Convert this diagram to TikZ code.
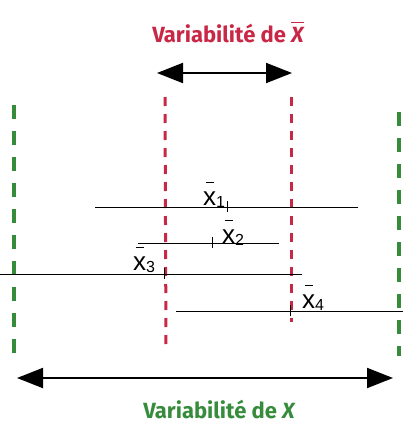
\documentclass[tikz,border=0pt]{standalone}
\usepackage{fontspec}
\setmainfont{Liberation Sans}
\newfontfamily\titlefont{Fira Sans}
\usetikzlibrary{arrows.meta}
\definecolor{vred}{RGB}{200,40,70}
\definecolor{vgreen}{RGB}{55,140,60}
\newcommand\obar[1]{\leavevmode\vbox{\hrule height 1.2pt\kern 4pt\hbox{#1}}}
\newcommand\xbarlab[1]{{\fontsize{26}{26}\selectfont\makebox[0pt][l]{\hspace{2.5pt}\raisebox{22pt}{\rule{8pt}{1.3pt}}}x}\raisebox{-2pt}{\fontsize{16}{16}\selectfont #1}}
\tikzset{
  titletext/.style={font=\titlefont\bfseries\fontsize{22}{22}\selectfont, inner sep=0pt},
  bigarrow/.style={line width=2pt, {Triangle[length=26pt,width=20pt]}-{Triangle[length=26pt,width=20pt]}},
  reddash/.style={vred, line width=3pt, dash pattern=on 9pt off 8pt},
  greendash/.style={vgreen, line width=3.5pt, dash pattern=on 14pt off 12pt},
  meanline/.style={black, line width=0.9pt},
  tickmark/.style={black, line width=1pt},
  meanlab/.style={inner sep=0pt}
}
\begin{document}
\begin{tikzpicture}[x=1pt,y=-1pt]
\useasboundingbox (0,0) rectangle (403,423);
% titles
\node[titletext, text=vred, anchor=base] (ttop) at (228,42) {Variabilité de \obar{\itshape X}};
\node[titletext, text=vgreen, anchor=base] (tbot) at (219,418) {Variabilité de {\itshape X}};
% arrows
\coordinate (ta1) at (157,73); \coordinate (ta2) at (292,73);
\draw[bigarrow] (ta1) -- (ta2);
\coordinate (ba1) at (17,378); \coordinate (ba2) at (393,378);
\draw[bigarrow] (ba1) -- (ba2);
% red dashed lines
\coordinate (rl1) at (165,97); \coordinate (rl2) at (166,350);
\coordinate (rr1) at (291,97); \coordinate (rr2) at (291,322);
\draw[reddash] (rl1) -- (rl2);
\draw[reddash] (rr1) -- (rr2);
% green dashed lines
\coordinate (gl1) at (14,105); \coordinate (gl2) at (14,356);
\coordinate (gr1) at (399,112); \coordinate (gr2) at (399,356);
\draw[greendash] (gl1) -- (gl2);
\draw[greendash] (gr1) -- (gr2);
% mean lines
\coordinate (a1) at (95,207); \coordinate (a2) at (358,207);
\coordinate (b1) at (138,243); \coordinate (b2) at (279,243);
\coordinate (c1) at (0,274); \coordinate (c2) at (302,274);
\coordinate (d1) at (176,311); \coordinate (d2) at (403,311);
\draw[meanline] (a1) -- (a2);
\draw[meanline] (b1) -- (b2);
\draw[meanline] (c1) -- (c2);
\draw[meanline] (d1) -- (d2);
% ticks
\coordinate (m1) at (227,207); \coordinate (m2) at (212,243);
\coordinate (m3) at (164,274); \coordinate (m4) at (290,311);
\foreach \m in {m1,m2,m3,m4}{\draw[tickmark] ([yshift=-5pt]\m) -- ([yshift=6pt]\m);}
% labels
\node[meanlab, anchor=base west] (l1) at (203,205) {\xbarlab{1}};
\node[meanlab, anchor=base west] (l2) at (222,243) {\xbarlab{2}};
\node[meanlab, anchor=base west] (l3) at (133,270) {\xbarlab{3}};
\node[meanlab, anchor=base west] (l4) at (302,308) {\xbarlab{4}};
\end{tikzpicture}
\end{document}
